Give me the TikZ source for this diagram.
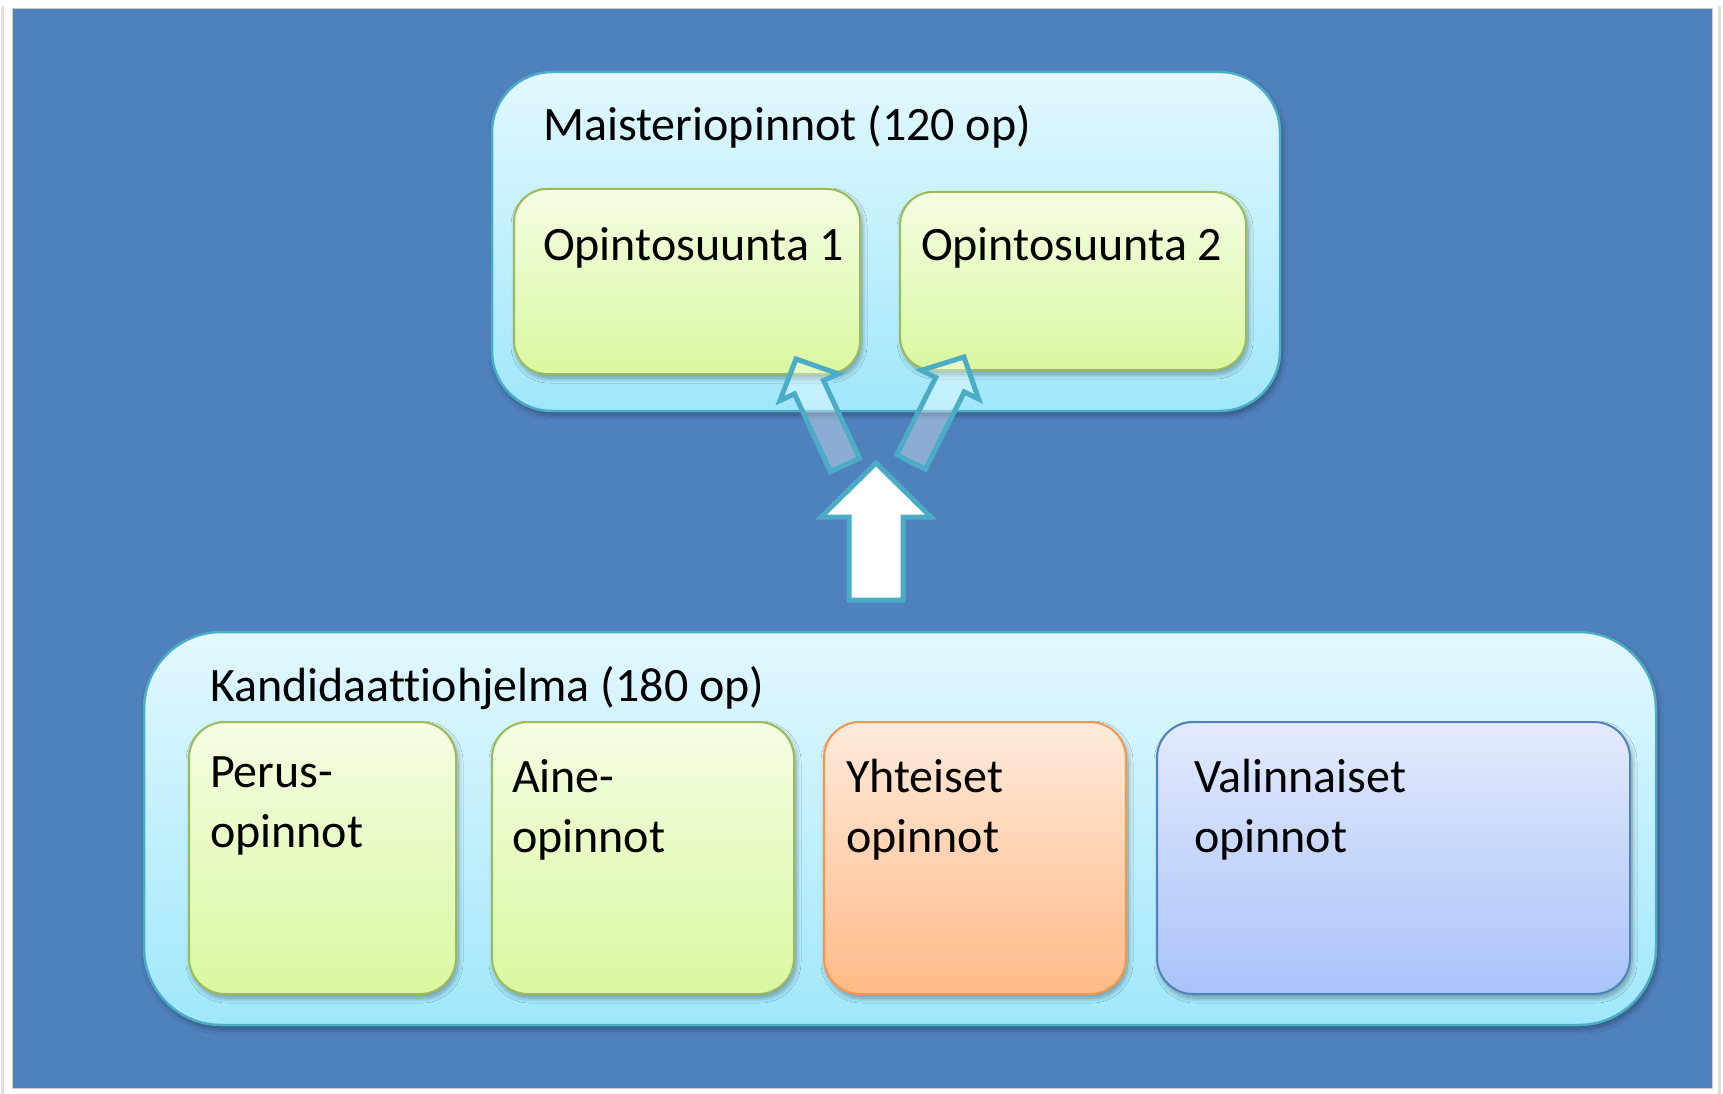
\documentclass[tikz,border=0pt]{standalone}
\usepackage{fontspec}
\setmainfont[Ligatures={NoCommon}]{Carlito}
\usetikzlibrary{calc,shadows.blur}
\definecolor{bgblue}{HTML}{4F81BD}
\definecolor{teal}{HTML}{4BACC6}
\definecolor{cyantop}{HTML}{E2F8FE}
\definecolor{cyanbot}{HTML}{A0E7FB}
\definecolor{greentop}{HTML}{F4FDE2}
\definecolor{greenbot}{HTML}{D9F8A0}
\definecolor{greenline}{HTML}{9BBB59}
\definecolor{orangetop}{HTML}{FFEADB}
\definecolor{orangebot}{HTML}{FFBA87}
\definecolor{orangeline}{HTML}{F79646}
\definecolor{lavtop}{HTML}{E3EAFC}
\definecolor{lavbot}{HTML}{A9C3FA}
\definecolor{lavline}{HTML}{4F81BD}
\newcommand\blockarrow[6]{% style, tail, tip, halfshaft, halfhead, headlen
  \coordinate (#3-hb) at ($(#3)!#6!(#2)$);
  \draw[#1] ($(#2)!#4!90:(#3)$) -- ($(#3-hb)!#4!-90:(#2)$) -- ($(#3-hb)!#5!-90:(#2)$)
    -- (#3) -- ($(#3-hb)!#5!90:(#2)$) -- ($(#3-hb)!#4!90:(#2)$) -- ($(#2)!#4!-90:(#3)$) -- cycle;}
\begin{document}
\begin{tikzpicture}[x=1pt,y=-1pt,
  every node/.style={inner sep=0pt, outer sep=0pt},
  shade/.style={blur shadow={shadow xshift=2pt, shadow yshift=-4pt, shadow blur radius=5pt, shadow blur steps=10, shadow opacity=35}},
  bigbox/.style={rectangle, anchor=north west, draw=teal, line width=2.5pt, top color=cyantop, bottom color=cyanbot, shade},
  greenbox/.style={rectangle, anchor=north west, draw=greenline, line width=2pt, top color=greentop, bottom color=greenbot, rounded corners=36pt, shade},
  orangebox/.style={rectangle, anchor=north west, draw=orangeline, line width=2pt, top color=orangetop, bottom color=orangebot, rounded corners=36pt, shade},
  lavbox/.style={rectangle, anchor=north west, draw=lavline, line width=2pt, top color=lavtop, bottom color=lavbot, rounded corners=36pt, shade},
  lbl/.style={anchor=base west, font=\fontsize{48}{60}\selectfont, text=black},
  lbl2/.style={anchor=base west, font=\fontsize{48}{60}\selectfont, text=black, align=left},
  thinarrow/.style={draw=teal, line width=5pt, fill=white, fill opacity=0.35, draw opacity=1, line join=miter},
  whitearrow/.style={draw=teal, line width=5pt, fill=white, line join=miter}
]
\useasboundingbox (0,0) rectangle (1723,1094);
\fill[white] (0,0) rectangle (1723,1094);
\draw[black!12, line width=3pt] (2,6) -- (2,1094);
\draw[black!12, line width=3pt] (1719,6) -- (1719,1094);
\node[rectangle, anchor=north west, fill=bgblue, draw=black!20, line width=1pt, minimum width=1700pt, minimum height=1079pt] (panel) at (12,9) {};

% Master's box
\node[bigbox, rounded corners=60pt, minimum width=788pt, minimum height=339pt] (mast) at (492,72) {};
\node[lbl] (mastlbl) at (543,141) {Maisteriopinnot (120 op)};
\node[greenbox, rounded corners=33pt, minimum width=346pt, minimum height=185pt] (os1) at (514,189) {};
\node[lbl] (os1lbl) at (543,260) {Opintosuunta 1};
\node[greenbox, rounded corners=33pt, minimum width=346pt, minimum height=178pt] (os2) at (900,192) {};
\node[lbl] (os2lbl) at (921,260) {Opintosuunta 2};

% Bachelor's box
\node[bigbox, rounded corners=77pt, minimum width=1512pt, minimum height=393pt] (kand) at (144,632) {};
\node[lbl] (kandlbl) at (210,701) {Kandidaattiohjelma (180 op)};
\node[greenbox, minimum width=267pt, minimum height=272pt] (perus) at (189,722) {};
\node[lbl2] (peruslbl) at (210,847) {Perus-\\opinnot};
\node[greenbox, minimum width=302pt, minimum height=272pt] (aine) at (492,722) {};
\node[lbl2] (ainelbl) at (512,852) {Aine-\\opinnot};
\node[orangebox, minimum width=302pt, minimum height=272pt] (yht) at (824,722) {};
\node[lbl2] (yhtlbl) at (846,852) {Yhteiset\\opinnot};
\node[lavbox, minimum width=473pt, minimum height=272pt] (val) at (1157,722) {};
\node[lbl2] (vallbl) at (1194,852) {Valinnaiset\\opinnot};

% Arrows
\coordinate (wtail) at (876,600);
\coordinate (wtip) at (876,463);
\coordinate (ltail) at (845,465);
\coordinate (ltip) at (796,359);
\coordinate (rtail) at (911,462);
\coordinate (rtip) at (964,357);
\blockarrow{thinarrow}{ltail}{ltip}{16pt}{32pt}{31pt}
\blockarrow{thinarrow}{rtail}{rtip}{16pt}{32pt}{31pt}
\blockarrow{whitearrow}{wtail}{wtip}{27pt}{55pt}{54pt}
\end{tikzpicture}
\end{document}
